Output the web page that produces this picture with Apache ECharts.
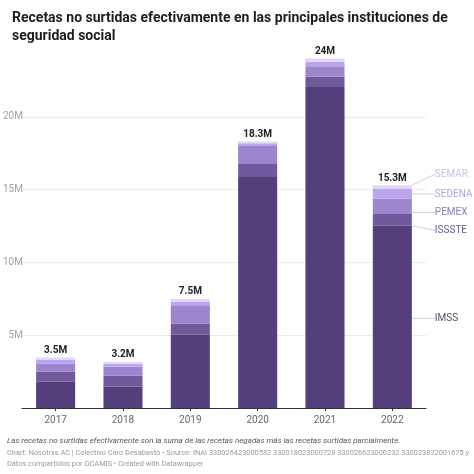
<!DOCTYPE html>
<html><head><meta charset="utf-8">
<script src="https://cdn.jsdelivr.net/npm/echarts@6/dist/echarts.min.js"></script>
<style>html,body{margin:0;padding:0;background:#fff}#c{width:474px;height:474px}</style>
</head><body><div id="c"></div>
<script>
const years = ['2017','2018','2019','2020','2021','2022'];
const imss   = [1.80, 1.47, 5.03, 15.87, 22.05, 12.52];
const issste = [0.70, 0.75, 0.76, 0.88, 0.70, 0.80];
const pemex  = [0.55, 0.62, 1.26, 1.25, 0.72, 1.06];
const sedena = [0.25, 0.20, 0.25, 0.18, 0.31, 0.70];
const semar  = [0.16, 0.13, 0.20, 0.12, 0.22, 0.22];
const yTicks = [0, 5, 10, 15, 20];

const seriesDefs = [
  {name:'IMSS',   data:imss,   color:'#533f7b', text:'#5a4d74', dy:1.5},
  {name:'ISSSTE', data:issste, color:'#6f5a9c', text:'#6b5f8a', dy:10.5},
  {name:'PEMEX',  data:pemex,  color:'#9b85cc', text:'#8b7bb8', dy:6},
  {name:'SEDENA', data:sedena, color:'#bba3ee', text:'#b3a5de', dy:0.5},
  {name:'SEMAR',  data:semar,  color:'#e3d5fb', text:'#cbbfe6', dy:-12.5}
];
const totals = years.map((_, i) => seriesDefs.reduce((s, d) => s + d.data[i], 0));
const last = years.length - 1;
const font = 'Roboto, "Noto Sans", sans-serif';

const series = seriesDefs.map(d => ({
  name: d.name, type: 'bar', stack: 'a', barWidth: '58%',
  itemStyle: {color: d.color},
  data: d.data.map((v, i) => i === last ? {value: v, label: {show: true}, labelLine: {show: true}} : v),
  label: {show: false, position: 'right', formatter: d.name, color: d.text,
          fontFamily: font, fontSize: 10},
  labelLine: {show: false, lineStyle: {color: '#d0d0d0', width: 1}},
  labelLayout: function (p) {
    if (p.dataIndex !== last) return {};
    return {x: p.rect.x + p.rect.width + 23, y: p.rect.y + p.rect.height / 2 + d.dy,
            align: 'left', verticalAlign: 'middle'};
  },
  emphasis: {disabled: true}
}));
series.push({
  name: 'total', type: 'bar', barWidth: '58%', barGap: '-100%', z: 1,
  itemStyle: {color: 'rgba(0,0,0,0)'},
  data: totals,
  label: {show: true, position: 'top', distance: 2, color: '#222', fontWeight: 'bold',
          fontFamily: font, fontSize: 10,
          formatter: p => parseFloat(p.value.toFixed(1)) + 'M'},
  emphasis: {disabled: true}
});

const chart = echarts.init(document.getElementById('c'), null, {renderer: 'canvas'});
chart.setOption({
  animation: false,
  backgroundColor: '#fff',
  textStyle: {fontFamily: font},
  title: {
    text: 'Recetas no surtidas efectivamente en las principales instituciones de\nseguridad social',
    left: 7, top: 4,
    textStyle: {fontFamily: font, fontSize: 14, fontWeight: 'bold', color: '#1d1d1d', lineHeight: 18}
  },
  grid: {left: 21, right: 48, top: 44, bottom: 66},
  xAxis: {
    type: 'category', data: years,
    axisLine: {lineStyle: {color: '#333', width: 1}},
    axisTick: {show: true, alignWithLabel: true, length: 3, lineStyle: {color: '#333'}},
    axisLabel: {color: '#666', fontSize: 10, margin: 7, fontFamily: font}
  },
  yAxis: {
    type: 'value', min: 0, max: 25, interval: 5,
    axisLine: {show: false}, axisTick: {show: false},
    axisLabel: {color: '#a0a0a0', fontSize: 10, margin: -1, showMaxLabel: false, fontFamily: font,
                formatter: v => (yTicks.includes(v) && v !== 0) ? v + 'M' : ''},
    splitLine: {show: true, showMaxLine: false, showMinLine: false, lineStyle: {color: '#ebebeb'}}
  },
  series: series,
  graphic: [
    {type: 'text', left: 7, top: 437, style: {text: 'Las recetas no surtidas efectivamente son la suma de las recetas negadas más las recetas surtidas parcialmente.',
      fill: '#555', font: 'italic 8px ' + font}},
    {type: 'text', left: 7, top: 448, style: {text: 'Chart: Nosotrxs AC | Colectivo Cero Desabasto • Source: INAI 330026423000582 330018023000728 330026623000232 330023822001675 y\nDatos compartidos por OCAMIS • Created with Datawrapper',
      fill: '#999', font: '7.4px ' + font, lineHeight: 11}}
  ]
});
</script></body></html>
